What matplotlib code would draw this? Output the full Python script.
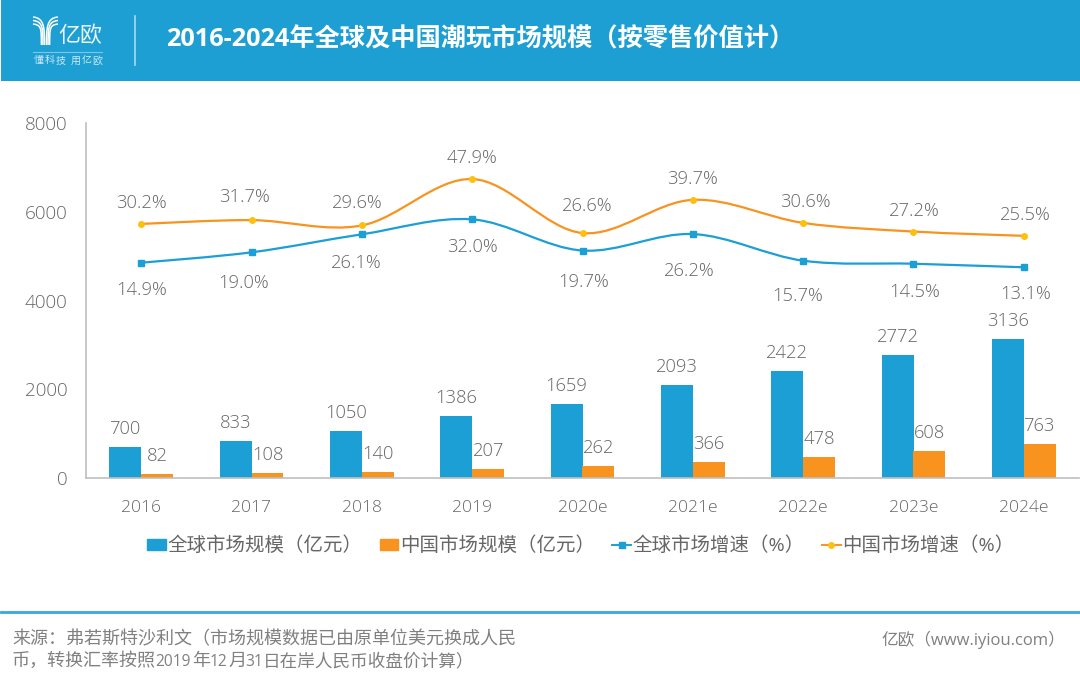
import numpy as np
import matplotlib
matplotlib.use('Agg')
import matplotlib.pyplot as plt
from matplotlib.path import Path
from matplotlib.patches import PathPatch, Rectangle
from matplotlib.lines import Line2D

plt.rcParams['font.family'] = ['Open Sans', 'Noto Sans CJK SC', 'DejaVu Sans']

years = ['2016', '2017', '2018', '2019', '2020e', '2021e', '2022e', '2023e', '2024e']
global_size = [700, 833, 1050, 1386, 1659, 2093, 2422, 2772, 3136]
china_size = [82, 108, 140, 207, 262, 366, 478, 608, 763]
global_growth = [14.9, 19.0, 26.1, 32.0, 19.7, 26.2, 15.7, 14.5, 13.1]
china_growth = [30.2, 31.7, 29.6, 47.9, 26.6, 39.7, 30.6, 27.2, 25.5]

# label offsets from each point, pixels
china_dx = [0, -7, -5, 0, 5, 0, 2, 1, 2]
china_dy = [21, 23, 22, 21, 27, 21, 21, 21, 21]
global_dx = [0, -8, -6, 0, 1, -4, -6, 1, 2]
global_dy = [-27, -31, -29, -28, -31, -37, -35, -28, -27]

BLUE = '#1b9fd5'
ORANGE = '#f8931f'
YELLOW = '#fdc010'
GREY = '#666666'
FOOT = '#808080'
LIGHT = 'light'


def smooth_path(x, y):
    # excel style smoothing, catmull-rom written as beziers
    x = np.asarray(x, float)
    y = np.asarray(y, float)
    verts = [(x[0], y[0])]
    codes = [Path.MOVETO]
    for i in range(len(x) - 1):
        i0 = max(i - 1, 0)
        i3 = min(i + 2, len(x) - 1)
        verts.append((x[i] + (x[i + 1] - x[i0]) / 6, y[i] + (y[i + 1] - y[i0]) / 6))
        verts.append((x[i + 1] - (x[i3] - x[i]) / 6, y[i + 1] - (y[i3] - y[i]) / 6))
        verts.append((x[i + 1], y[i + 1]))
        codes += [Path.CURVE4] * 3
    return Path(verts, codes)


fig = plt.figure(figsize=(10.8, 6.81), dpi=100, facecolor='white')
ax = fig.add_axes([86 / 1080, 1 - 478 / 681, (1079 - 86) / 1080, 355 / 681])
pos = np.arange(len(years))
w = 0.29

ax.bar(pos - w / 2, global_size, w, color=BLUE)
ax.bar(pos + w / 2, china_size, w, color=ORANGE)
for i in pos:
    ax.annotate(str(global_size[i]), (i - w / 2, global_size[i]), xytext=(0, 13), textcoords='offset pixels',
                ha='center', va='baseline', fontsize=13.2, color=GREY, fontweight=LIGHT)
    ax.annotate(str(china_size[i]), (i + w / 2, china_size[i]), xytext=(0, 13), textcoords='offset pixels',
                ha='center', va='baseline', fontsize=13.2, color=GREY, fontweight=LIGHT)

ax.set_xlim(-0.5, 8.5)
ax.set_ylim(0, 8000)
ax.set_yticks([0, 2000, 4000, 6000, 8000])
ax.set_xticks(pos)
ax.set_xticklabels(years)
ax.tick_params(axis='x', length=0, pad=15.5, labelsize=12.6, labelcolor=GREY)
ax.tick_params(axis='y', length=0, pad=13.5, labelsize=13.6, labelcolor=GREY)
for lab in ax.get_xticklabels() + ax.get_yticklabels():
    lab.set_fontweight(LIGHT)
ax.spines['top'].set_visible(False)
ax.spines['right'].set_visible(False)
ax.spines['left'].set_color('#bfbfbf')
ax.spines['bottom'].set_color('#bfbfbf')
ax.spines['left'].set_linewidth(1.2)
ax.spines['bottom'].set_linewidth(1.2)

# growth lines sit on a hidden second axis
ax2 = ax.twinx()
ax2.set_ylim(-70, 70)
ax2.axis('off')
ax2.add_patch(PathPatch(smooth_path(pos, global_growth), fc='none', ec=BLUE, lw=1.6))
ax2.add_patch(PathPatch(smooth_path(pos, china_growth), fc='none', ec=ORANGE, lw=1.6))
ax2.plot(pos, global_growth, ls='none', marker='s', ms=5, color=BLUE)
ax2.plot(pos, china_growth, ls='none', marker='o', ms=4, color=YELLOW)
for i in pos:
    ax2.annotate(f'{china_growth[i]:.1f}%', (i, china_growth[i]), xytext=(china_dx[i], china_dy[i]),
                 textcoords='offset pixels', ha='center', va='center', fontsize=13.2, color=GREY, fontweight=LIGHT)
    ax2.annotate(f'{global_growth[i]:.1f}%', (i, global_growth[i]), xytext=(global_dx[i], global_dy[i]),
                 textcoords='offset pixels', ha='center', va='center', fontsize=13.2, color=GREY, fontweight=LIGHT)

handles = [Rectangle((0, 0), 1, 1, color=BLUE), Rectangle((0, 0), 1, 1, color=ORANGE),
           Line2D([], [], color=BLUE, lw=1.4, marker='s', ms=5),
           Line2D([], [], color=ORANGE, lw=1.4, marker='o', ms=4, mfc=YELLOW, mec=YELLOW)]
labels = ['全球市场规模（亿元）', '中国市场规模（亿元）', '全球市场增速（%）', '中国市场增速（%）']
fig.legend(handles, labels, ncols=4, loc='center', bbox_to_anchor=(581 / 1080, 1 - 546 / 681), frameon=False,
           fontsize=14, labelcolor=GREY, handlelength=0.95, handleheight=0.55, handletextpad=0.1, columnspacing=0.88)

# header, footer and logo in pixel coordinates
page = fig.add_axes([0, 0, 1, 1], zorder=-1)
page.set_xlim(0, 1080)
page.set_ylim(681, 0)
page.axis('off')
page.add_patch(Rectangle((1, 0), 1079, 81, color='#1e9fd4', lw=0))
page.plot([135, 135], [16, 65], color='#a9d9ee', lw=1.2)
page.plot([33, 102], [52, 52], color='#7cc5e6', lw=0.8)
page.plot([1, 1080], [612, 612], color='#35a8dc', lw=2)
page.text(166, 40, '2016-2024年全球及中国潮玩市场规模（按零售价值计）', color='white', fontsize=18.2,
          fontweight='bold', va='center', ha='left')
page.text(58, 37, '亿欧', color='#eaf6fb', fontsize=15.8, fontweight=LIGHT, va='center', ha='left')
for ch, x in zip('懂科技用亿欧', [34, 44.8, 55.6, 71, 81.8, 92.6]):
    page.text(x, 61, ch, color='#cfeaf6', fontsize=7.2, va='center', ha='left')
for off in (0, 3.5, 7):
    # logo stripes, left and right arm of the Y
    stem = 44.5 - off * 0.45
    for start, end in ((33, stem), (58, 91 - stem)):
        page.add_patch(PathPatch(Path([(start, 17 + off), (end, 18 + off), (end, 28), (end, 45)],
                                      [Path.MOVETO, Path.CURVE4, Path.CURVE4, Path.CURVE4]),
                                 fc='none', ec='white', lw=1.1))
page.text(12, 639, '来源：弗若斯特沙利文（市场规模数据已由原单位美元换成人民', color=FOOT, fontsize=13,
          va='center', ha='left')
# the digits in this line are narrower than the han text around them
foot_parts = ['币，转换汇率按照', '2019', '年', '12', '月', '31', '日在岸人民币收盘价计算）']
foot_x = [12, 155, 192, 210, 228, 245, 263]
foot_fs = [13, 11.2, 13, 11.2, 13, 11.2, 12.7]
for part, x, fs in zip(foot_parts, foot_x, foot_fs):
    page.text(x, 666, part, color=FOOT, fontsize=fs, va='baseline', ha='left')
page.text(1065, 640, '亿欧（www.iyiou.com）', color=FOOT, fontsize=12, va='center', ha='right')

fig.savefig('out.png', dpi=100)
